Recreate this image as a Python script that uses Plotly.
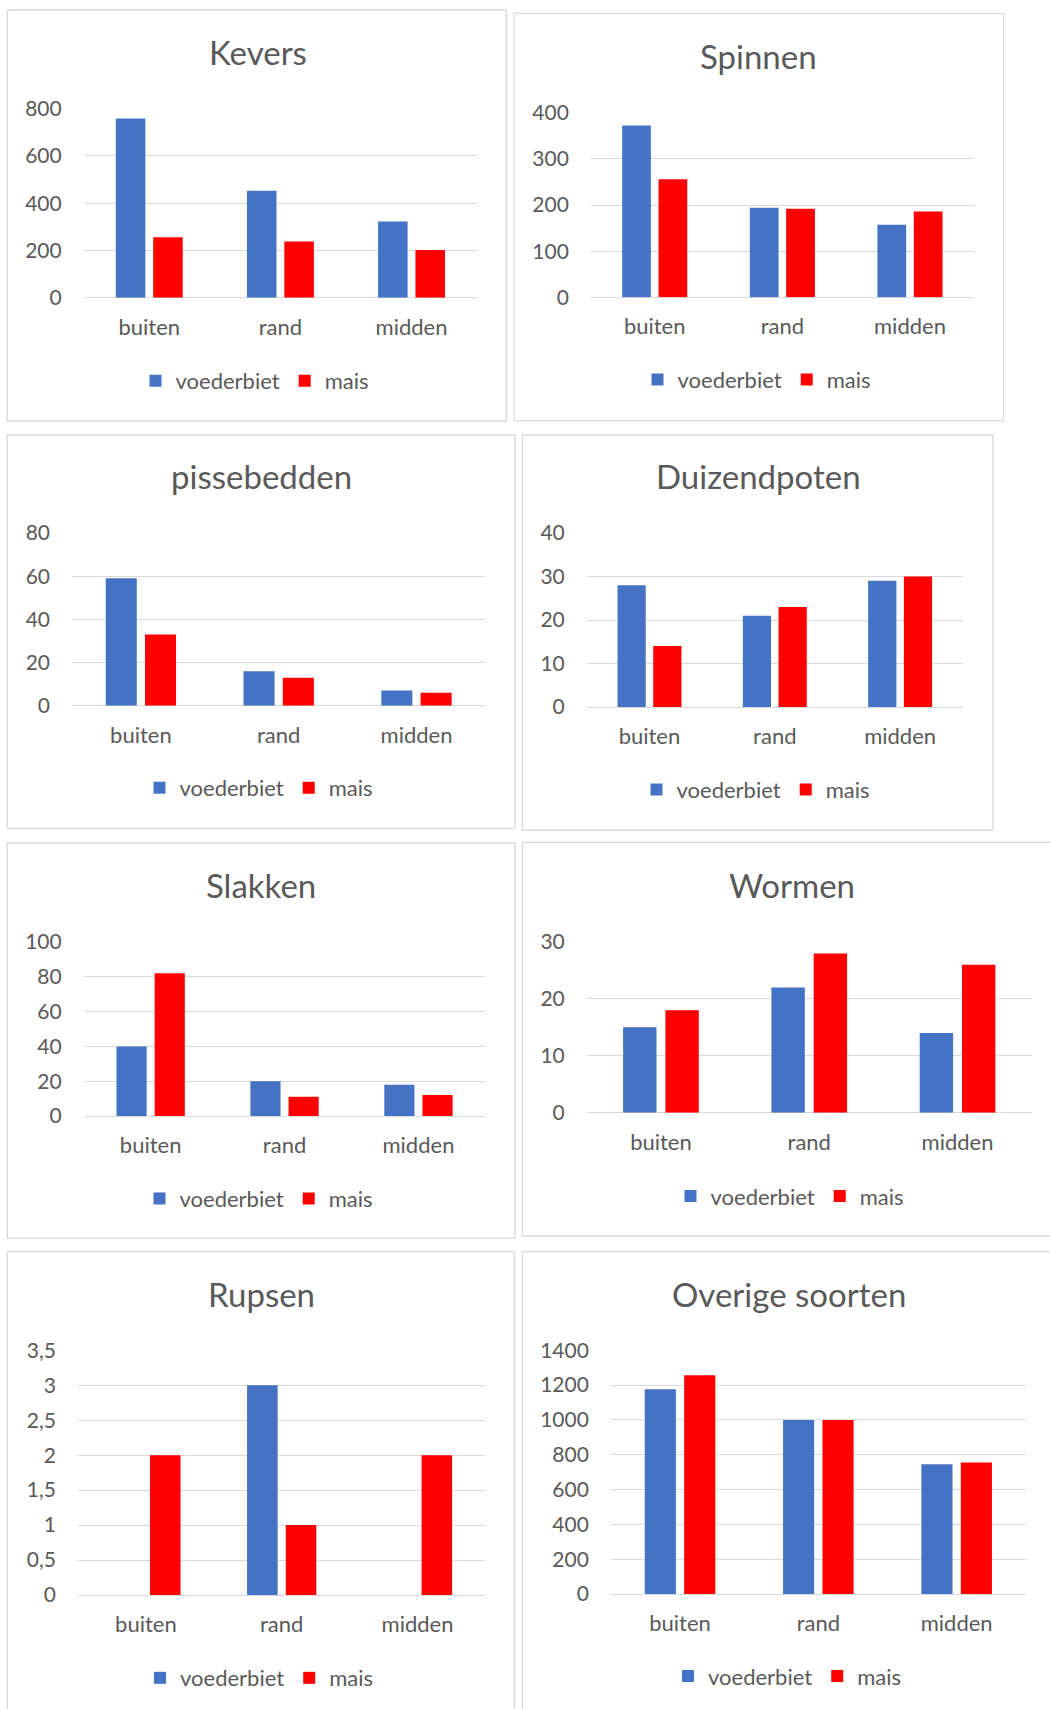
import plotly.graph_objects as go

# ---------------- data ----------------
categories = ["buiten", "rand", "midden"]
series_names = ["voederbiet", "mais"]

titles = ["Kevers", "Spinnen", "pissebedden", "Duizendpoten",
          "Slakken", "Wormen", "Rupsen", "Overige soorten"]

kevers_voederbiet = [758, 453, 323]
kevers_mais = [256, 238, 202]
spinnen_voederbiet = [372, 194, 157]
spinnen_mais = [256, 192, 186]
pissebedden_voederbiet = [59, 16, 7]
pissebedden_mais = [33, 13, 6]
duizendpoten_voederbiet = [28, 21, 29]
duizendpoten_mais = [14, 23, 30]
slakken_voederbiet = [40, 20, 18]
slakken_mais = [82, 11, 12]
wormen_voederbiet = [15, 22, 14]
wormen_mais = [18, 28, 26]
rupsen_voederbiet = [0, 3, 0]
rupsen_mais = [2, 1, 2]
overige_voederbiet = [1176, 1000, 745]
overige_mais = [1256, 1000, 755]

kevers_ticks = [0, 200, 400, 600, 800]
kevers_ticklabels = ["0", "200", "400", "600", "800"]
spinnen_ticks = [0, 100, 200, 300, 400]
spinnen_ticklabels = ["0", "100", "200", "300", "400"]
pissebedden_ticks = [0, 20, 40, 60, 80]
pissebedden_ticklabels = ["0", "20", "40", "60", "80"]
duizendpoten_ticks = [0, 10, 20, 30, 40]
duizendpoten_ticklabels = ["0", "10", "20", "30", "40"]
slakken_ticks = [0, 20, 40, 60, 80, 100]
slakken_ticklabels = ["0", "20", "40", "60", "80", "100"]
wormen_ticks = [0, 10, 20, 30]
wormen_ticklabels = ["0", "10", "20", "30"]
rupsen_ticks = [0, 0.5, 1, 1.5, 2, 2.5, 3, 3.5]
rupsen_ticklabels = ["0", "0,5", "1", "1,5", "2", "2,5", "3", "3,5"]
overige_ticks = [0, 200, 400, 600, 800, 1000, 1200, 1400]
overige_ticklabels = ["0", "200", "400", "600", "800", "1000", "1200", "1400"]

panel_values = [
    (kevers_voederbiet, kevers_mais),
    (spinnen_voederbiet, spinnen_mais),
    (pissebedden_voederbiet, pissebedden_mais),
    (duizendpoten_voederbiet, duizendpoten_mais),
    (slakken_voederbiet, slakken_mais),
    (wormen_voederbiet, wormen_mais),
    (rupsen_voederbiet, rupsen_mais),
    (overige_voederbiet, overige_mais),
]
panel_ticks = [
    (kevers_ticks, kevers_ticklabels),
    (spinnen_ticks, spinnen_ticklabels),
    (pissebedden_ticks, pissebedden_ticklabels),
    (duizendpoten_ticks, duizendpoten_ticklabels),
    (slakken_ticks, slakken_ticklabels),
    (wormen_ticks, wormen_ticklabels),
    (rupsen_ticks, rupsen_ticklabels),
    (overige_ticks, overige_ticklabels),
]

# ---------------- layout geometry (pixels) ----------------
W, H = 1050, 1709
# plot area: x0, x1, y_top, y_bottom
plot_px = [
    (83.7, 477.1, 108.7, 297.7),
    (590.9, 973.8, 112.7, 297.3),
    (72.0, 485.4, 533.0, 705.7),
    (586.8, 962.8, 533.0, 707.0),
    (83.7, 485.4, 942.0, 1116.0),
    (586.8, 1031.7, 942.0, 1112.7),
    (78.0, 485.4, 1350.3, 1595.0),
    (610.9, 1025.8, 1350.3, 1594.0),
]
# chart borders: x0, y0, x1, y1
border_px = [
    (7.4, 10.0, 506.2, 421.0),
    (514.1, 13.3, 1003.5, 420.7),
    (7.4, 435.0, 514.9, 828.3),
    (522.4, 435.0, 992.8, 830.0),
    (7.4, 843.0, 514.9, 1238.3),
    (522.4, 842.3, 1060.0, 1236.0),
    (7.4, 1251.7, 514.2, 1720.0),
    (522.4, 1251.7, 1060.0, 1720.0),
]
# title centre (x, y)
title_px = [
    (257.5, 52.0), (758.6, 55.5), (261.0, 475.5), (758.0, 476.0),
    (260.5, 884.7), (792.4, 885.0), (261.0, 1294.0), (789.0, 1294.0),
]
# legend centre (x, y)
legend_px = [
    (255.0, 381.0), (757.0, 379.7), (259.0, 788.0), (756.0, 789.7),
    (259.0, 1198.7), (790.0, 1196.3), (259.5, 1678.0), (787.5, 1676.3),
]

FONT = "Lato"
TXT = "#595959"
GRID = "#D9D9D9"
COLORS = ["#4472C4", "#FF0000"]


def px_x(x):
    return x / W


def px_y(y):
    return 1 - y / H


fig = go.Figure()
layout = dict(
    width=W, height=H, autosize=False,
    margin=dict(l=0, r=0, t=0, b=0, pad=0, autoexpand=False),
    paper_bgcolor="white", plot_bgcolor="rgba(0,0,0,0)",
    barmode="group", bargap=0.43, bargroupgap=0.21,
    font=dict(family=FONT, color=TXT),
    shapes=[], annotations=[],
)

for i in range(8):
    n = i + 1
    xa = "x" if n == 1 else f"x{n}"
    ya = "y" if n == 1 else f"y{n}"
    lg = "legend" if n == 1 else f"legend{n}"
    vals = panel_values[i]
    for s in range(2):
        fig.add_trace(go.Bar(
            x=categories, y=vals[s], name=series_names[s],
            marker=dict(color=COLORS[s], line=dict(width=0)),
            xaxis=xa, yaxis=ya, legend=lg, showlegend=True,
        ))
    x0, x1, yt, yb = plot_px[i]
    tv, tt = panel_ticks[i]
    xkey = "xaxis" if n == 1 else f"xaxis{n}"
    ykey = "yaxis" if n == 1 else f"yaxis{n}"
    layout[xkey] = dict(
        domain=[px_x(x0), px_x(x1)], anchor=ya, type="category",
        showgrid=False, showline=False, zeroline=False, ticks="",
        automargin=False,
        tickfont=dict(family=FONT, size=22, color=TXT),
        ticklabelstandoff=14,
    )
    layout[ykey] = dict(
        domain=[px_y(yb), px_y(yt)], anchor=xa,
        range=[0, tv[-1]], tickmode="array", tickvals=tv, ticktext=tt,
        showgrid=True, gridcolor=GRID, gridwidth=1.3,
        zeroline=True, zerolinecolor=GRID, zerolinewidth=1.3,
        showline=False, ticks="", automargin=False,
        tickfont=dict(family=FONT, size=21, color=TXT),
        ticklabelstandoff=21,
    )
    bx0, by0, bx1, by1 = border_px[i]
    layout["shapes"].append(dict(
        type="rect", xref="paper", yref="paper",
        x0=px_x(bx0), x1=px_x(bx1), y0=px_y(by1), y1=px_y(by0),
        line=dict(color=GRID, width=1.3), fillcolor="rgba(0,0,0,0)",
        layer="below",
    ))
    tx, ty = title_px[i]
    layout["annotations"].append(dict(
        text=titles[i], xref="paper", yref="paper",
        x=px_x(tx), y=px_y(ty), xanchor="center", yanchor="middle",
        showarrow=False, font=dict(family=FONT, size=33, color=TXT),
    ))
    lx, ly = legend_px[i]
    layout[lg] = dict(
        orientation="h", x=px_x(lx), y=px_y(ly),
        xanchor="center", yanchor="middle",
        font=dict(family=FONT, size=22, color=TXT),
        bgcolor="rgba(0,0,0,0)", traceorder="normal",
        itemclick=False, itemdoubleclick=False,
    )

fig.update_layout(**layout)
fig.write_html("out.html")
